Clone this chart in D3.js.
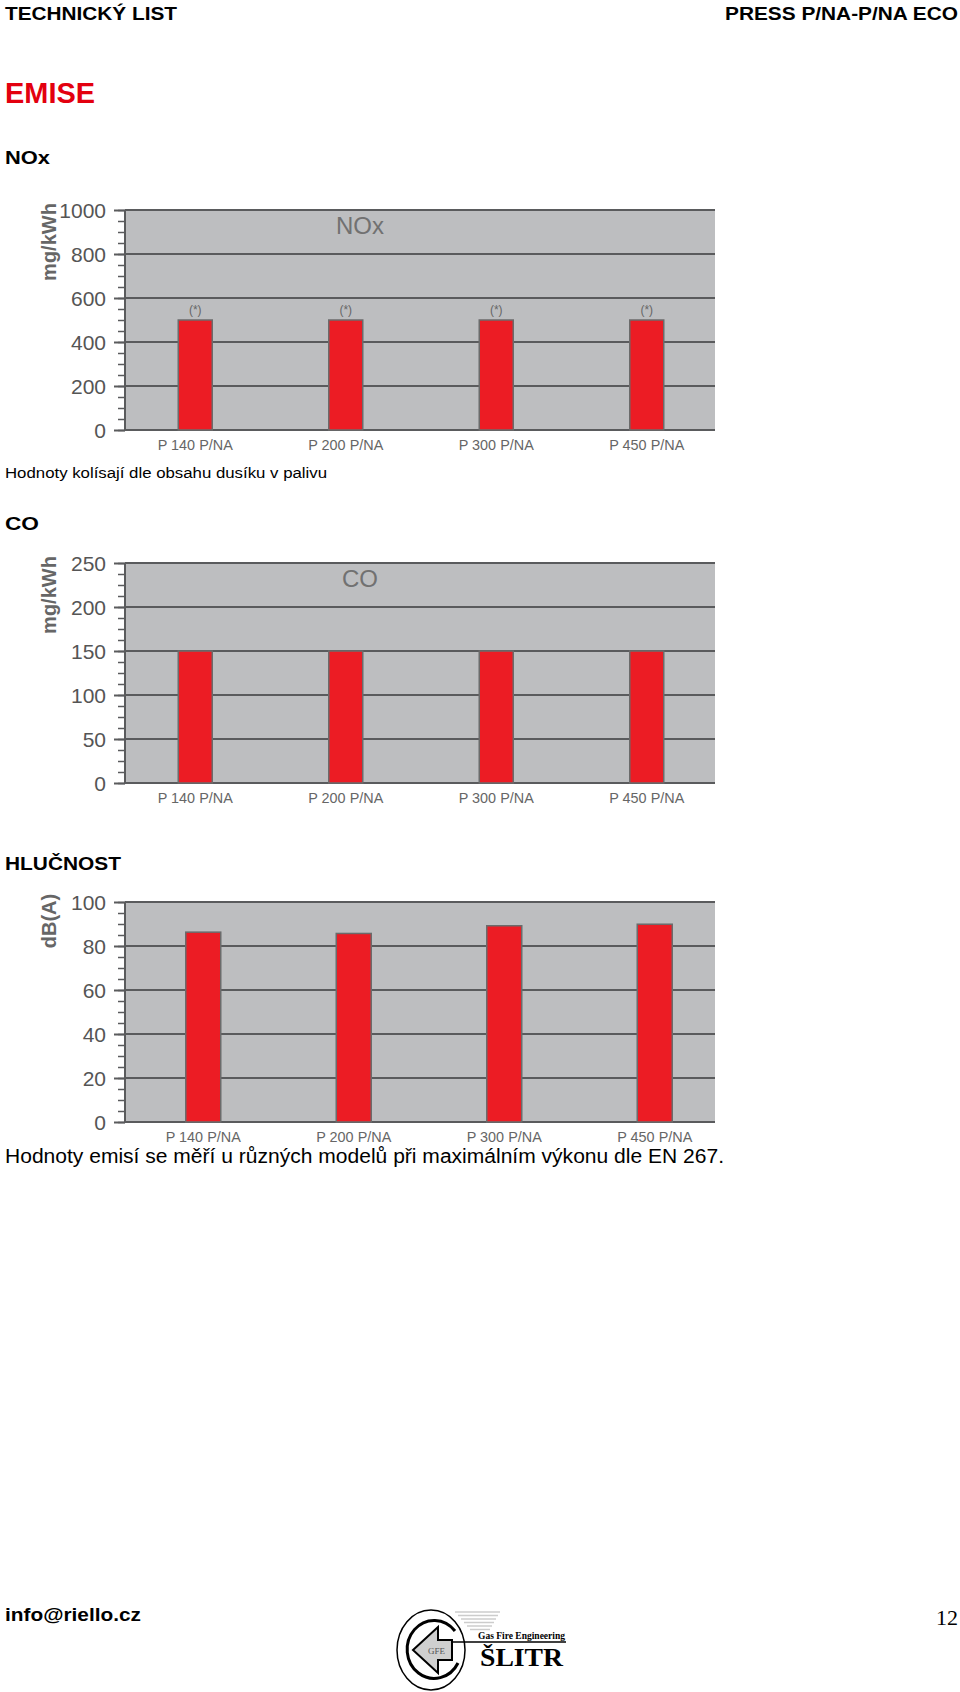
<!DOCTYPE html>
<html><head><meta charset="utf-8">
<script src="https://cdn.jsdelivr.net/npm/d3@7"></script>
<style>
html,body{margin:0;padding:0;background:#fff;}
svg{display:block;font-family:"Liberation Sans",Arial,sans-serif;}
</style></head>
<body>
<svg id="page" width="960" height="1692"></svg>
<script>
// ---- data ----
const categories = ["P 140 P/NA", "P 200 P/NA", "P 300 P/NA", "P 450 P/NA"];
const noxValues = [500, 500, 500, 500];
const noxNotes = ["(*)", "(*)", "(*)", "(*)"];
const coValues = [150, 150, 150, 150];
const noiseValues = [86.3, 85.7, 89.2, 89.9];
const noxTicks = [0, 200, 400, 600, 800, 1000];
const coTicks = [0, 50, 100, 150, 200, 250];
const noiseTicks = [0, 20, 40, 60, 80, 100];

const svg = d3.select("#page");

function txt(s, x, y, o) {
  const t = svg.append("text").attr("x", x).attr("y", y).text(s)
    .attr("font-size", o.size).attr("fill", o.fill || "#000")
    .attr("font-weight", o.bold ? "bold" : "normal");
  if (o.anchor) t.attr("text-anchor", o.anchor);
  if (o.len) t.attr("textLength", o.len).attr("lengthAdjust", "spacingAndGlyphs");
  if (o.family) t.attr("font-family", o.family);
  return t;
}

// ---- page texts ----
txt("TECHNICKÝ LIST", 5, 20, {size: 19, bold: true, len: 172});
txt("PRESS P/NA-P/NA ECO", 958, 20, {size: 19, bold: true, len: 233, anchor: "end"});
txt("EMISE", 5, 103, {size: 29, bold: true, fill: "#e3000f", len: 90});
txt("NOx", 5, 164, {size: 19, bold: true, len: 45});
txt("Hodnoty kolísají dle obsahu dusíku v palivu", 5, 478, {size: 14, len: 322});
txt("CO", 5, 530, {size: 19, bold: true, len: 34});
txt("HLUČNOST", 5, 870, {size: 19, bold: true, len: 116});

// ---- chart builder ----
function chart(c) {
  const g = svg.append("g");
  const left = 125, right = 715;
  const y = d3.scaleLinear().domain([0, c.max]).range([c.bottom, c.top]);
  const x = d3.scaleBand().domain(categories).range(c.band).padding(0);

  g.append("rect").attr("x", left).attr("y", c.top)
    .attr("width", right - left).attr("height", c.bottom - c.top)
    .attr("fill", "#bdbec0");

  // gridlines
  g.selectAll("line.grid").data(c.ticks).join("line").attr("class", "grid")
    .attr("x1", left).attr("x2", right)
    .attr("y1", d => y(d)).attr("y2", d => y(d))
    .attr("stroke", "#5a5b5d").attr("stroke-width", 2);

  // minor ticks
  const minor = d3.axisLeft(y).tickValues(d3.range(0, c.max + 1e-9, c.minor))
    .tickSize(7).tickFormat("");
  const gm = g.append("g").attr("transform", `translate(${left},0)`).call(minor);
  gm.select(".domain").remove();
  gm.selectAll("line").attr("stroke", "#5a5b5d").attr("stroke-width", 1.5);

  // major axis
  const major = d3.axisLeft(y).tickValues(c.ticks).tickSize(11).tickPadding(8)
    .tickFormat(d3.format("d"));
  const ga = g.append("g").attr("transform", `translate(${left},0)`).call(major);
  ga.select(".domain").attr("stroke", "#5a5b5d").attr("stroke-width", 2)
    .attr("d", `M0,${c.top}V${c.bottom}`);
  ga.selectAll("line").attr("stroke", "#5a5b5d").attr("stroke-width", 2);
  ga.selectAll("text").attr("font-size", 21).attr("fill", "#555")
    .attr("font-family", "'Liberation Sans',Arial,sans-serif").attr("dy", "0.35em");

  // bars
  const cx = d => x(d) + x.bandwidth() / 2;
  g.selectAll("rect.bar").data(c.values).join("rect").attr("class", "bar")
    .attr("x", (d, i) => cx(categories[i]) - c.barW / 2)
    .attr("width", c.barW)
    .attr("y", d => y(d)).attr("height", d => c.bottom - y(d))
    .attr("fill", "#ec1c24").attr("stroke", "#6b6b6b").attr("stroke-width", 1.5);

  if (c.notes) {
    g.selectAll("text.note").data(c.notes).join("text").attr("class", "note")
      .attr("x", (d, i) => cx(categories[i]))
      .attr("y", (d, i) => y(c.values[i]) - 6)
      .attr("text-anchor", "middle").attr("font-size", 12).attr("fill", "#666")
      .text(d => d);
  }

  // category labels
  g.selectAll("text.cat").data(categories).join("text").attr("class", "cat")
    .attr("x", d => cx(d)).attr("y", c.bottom + 20)
    .attr("text-anchor", "middle").attr("font-size", 14).attr("fill", "#666")
    .attr("textLength", 75).attr("lengthAdjust", "spacingAndGlyphs")
    .text(d => d);

  // title inside
  if (c.title) {
    g.append("text").attr("x", 360).attr("y", c.top + 24)
      .attr("text-anchor", "middle").attr("font-size", 24).attr("fill", "#717171")
      .text(c.title);
  }

  // y label
  g.append("text")
    .attr("transform", `translate(56,${c.labelY}) rotate(-90)`)
    .attr("text-anchor", "middle").attr("font-size", 20).attr("font-weight", "bold")
    .attr("fill", "#666").text(c.ylabel);
}

chart({top: 210, bottom: 430, max: 1000, ticks: noxTicks, minor: 50,
  values: noxValues, notes: noxNotes, band: [120, 722], barW: 34,
  title: "NOx", ylabel: "mg/kWh", labelY: 242});
chart({top: 563, bottom: 783, max: 250, ticks: coTicks, minor: 12.5,
  values: coValues, band: [120, 722], barW: 34,
  title: "CO", ylabel: "mg/kWh", labelY: 595});
chart({top: 902, bottom: 1122, max: 100, ticks: noiseTicks, minor: 5,
  values: noiseValues, band: [128, 730], barW: 35,
  ylabel: "dB(A)", labelY: 921});

txt("Hodnoty emisí se měří u různých modelů při maximálním výkonu dle EN 267.", 5, 1163, {size: 20, len: 719});

// ---- footer ----
txt("info@riello.cz", 5, 1621, {size: 19, bold: true, len: 136});
txt("12", 958, 1625, {size: 22, anchor: "end", family: "'Liberation Serif',serif"});

// logo
const lg = svg.append("g");
[0, 1, 2, 3, 4, 5].forEach(i => {
  lg.append("line").attr("x1", 455 + i * 3).attr("x2", 500 - i * 2)
    .attr("y1", 1612 + i * 3.5).attr("y2", 1612 + i * 3.5)
    .attr("stroke", "#ccc").attr("stroke-width", 1.5);
});
lg.append("ellipse").attr("cx", 431).attr("cy", 1650).attr("rx", 34).attr("ry", 40)
  .attr("fill", "#fff").attr("stroke", "#000").attr("stroke-width", 1.5);
lg.append("path").attr("d", "M455,1631 A27,29 0 1 0 458,1663")
  .attr("fill", "none").attr("stroke", "#000").attr("stroke-width", 3);
lg.append("path").attr("d", "M413,1650 L438,1627 L438,1640 L452,1640 L452,1660 L438,1660 L438,1673 Z")
  .attr("fill", "#cfcfcf").attr("stroke", "#000").attr("stroke-width", 2);
lg.append("line").attr("x1", 452).attr("x2", 566).attr("y1", 1642).attr("y2", 1642)
  .attr("stroke", "#000").attr("stroke-width", 1.5);
txt("GFE", 428, 1654, {size: 9, fill: "#555", family: "'Liberation Serif',serif"});
txt("Gas Fire Engineering", 478, 1639, {size: 10, bold: true, len: 87, family: "'Liberation Serif',serif"});
txt("ŠLITR", 480, 1666, {size: 25, bold: true, len: 83, family: "'Liberation Serif',serif"});
</script>
</body></html>
